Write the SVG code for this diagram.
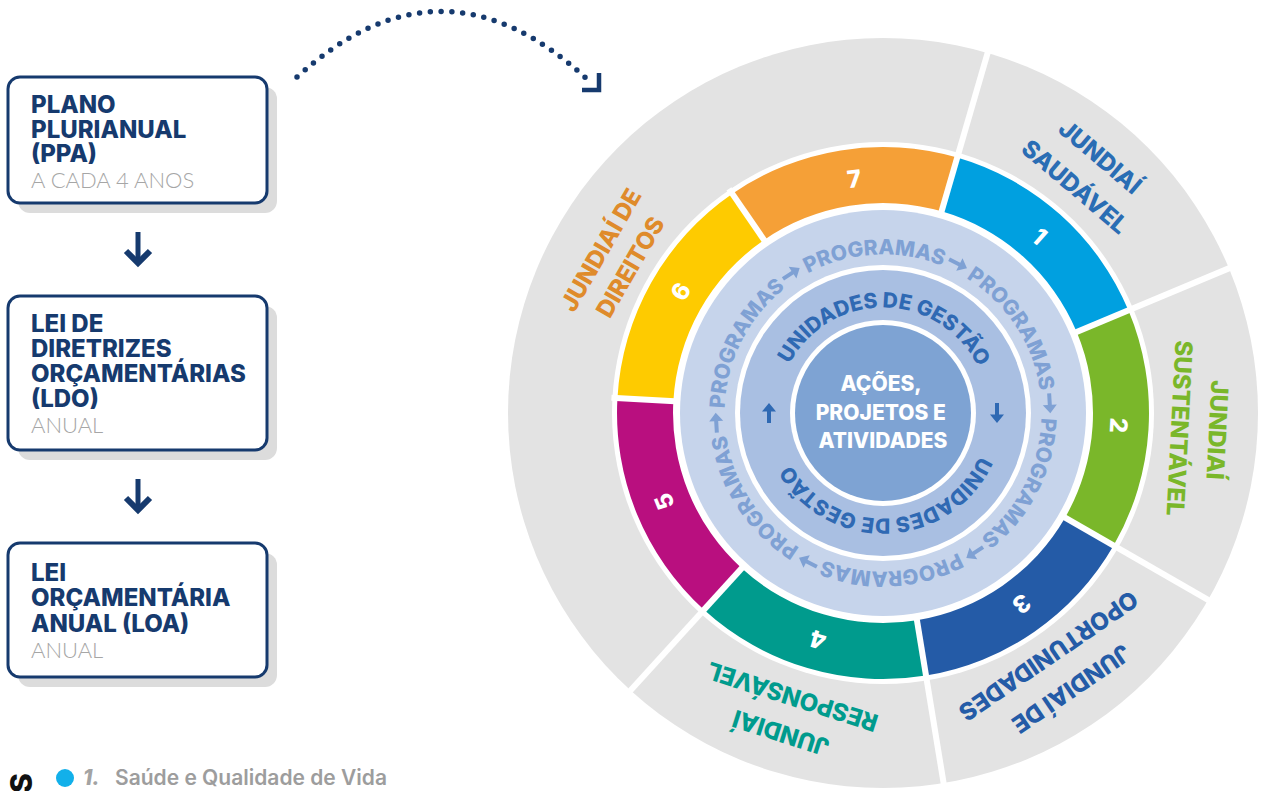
<svg xmlns="http://www.w3.org/2000/svg" xmlns:xlink="http://www.w3.org/1999/xlink" width="1261" height="791" viewBox="0 0 1261 791">
<defs>
<style>
.t{font-family:"Inter","Lato","Liberation Sans",sans-serif;}
.ttl{font-family:"Inter","Lato","Liberation Sans",sans-serif;font-weight:800;font-size:24px;fill:#163a6e;}
.sub{font-family:"Lato","Liberation Sans",sans-serif;font-weight:300;font-size:22px;fill:#a6a6a6;}
.box{fill:#ffffff;stroke:#163a6e;stroke-width:3;}
.shd{fill:#dcdcdc;}
.num{font-family:"Inter","Lato","Liberation Sans",sans-serif;font-weight:800;font-size:24px;fill:#ffffff;}
.lbl{font-family:"Inter","Lato","Liberation Sans",sans-serif;font-weight:800;font-size:24px;}
.prog{font-family:"Inter","Lato","Liberation Sans",sans-serif;font-weight:800;font-size:21px;fill:#7fa1d4;}
.ug{font-family:"Inter","Lato","Liberation Sans",sans-serif;font-weight:800;font-size:21px;fill:#2f69b3;}
.sep{stroke:#ffffff;stroke-width:6;}
.nav{stroke:#163a6e;fill:none;}
</style>
<path id="progPath" d="M883,254.5 A158.5,158.5 0 1 1 883,571.5 A158.5,158.5 0 1 1 883,254.5 A158.5,158.5 0 1 1 883,571.5 A158.5,158.5 0 1 1 883,254.5"/>
<path id="ugPath" d="M883,307.5 A105.5,105.5 0 1 1 883,518.5 A105.5,105.5 0 1 1 883,307.5 A105.5,105.5 0 1 1 883,518.5 A105.5,105.5 0 1 1 883,307.5"/>
<path id="arr" d="M-10,-2 H1.5 V-7 L10,0 L1.5,7 V2 H-10 Z"/>
</defs>
<rect width="1261" height="791" fill="#ffffff"/>

<!-- left boxes -->
<g id="box-ppa">
<rect class="shd" x="18" y="87" width="259" height="126" rx="12"/>
<rect class="box" x="8" y="77" width="259" height="126" rx="12"/>
<text class="ttl" x="31" y="113">PLANO</text>
<text class="ttl" x="31" y="138">PLURIANUAL</text>
<text class="ttl" x="31" y="162">(PPA)</text>
<text class="sub" x="31" y="188">A CADA 4 ANOS</text>
</g>
<g id="box-ldo">
<rect class="shd" x="18" y="306" width="259" height="154" rx="12"/>
<rect class="box" x="8" y="296" width="259" height="154" rx="12"/>
<text class="ttl" x="31" y="332">LEI DE</text>
<text class="ttl" x="31" y="357">DIRETRIZES</text>
<text class="ttl" x="31" y="382">ORÇAMENTÁRIAS</text>
<text class="ttl" x="31" y="407">(LDO)</text>
<text class="sub" x="31" y="433">ANUAL</text>
</g>
<g id="box-loa">
<rect class="shd" x="18" y="553" width="259" height="134" rx="12"/>
<rect class="box" x="8" y="543" width="259" height="134" rx="12"/>
<text class="ttl" x="31" y="581">LEI</text>
<text class="ttl" x="31" y="606">ORÇAMENTÁRIA</text>
<text class="ttl" x="31" y="632">ANUAL (LOA)</text>
<text class="sub" x="31" y="658">ANUAL</text>
</g>

<!-- connectors -->
<g id="connectors">
<path class="nav" d="M138,232 V263" stroke-width="5"/>
<path class="nav" d="M126,251 L138,263 L150,251" stroke-width="6"/>
<path class="nav" d="M138,479 V510" stroke-width="5"/>
<path class="nav" d="M126,498 L138,510 L150,498" stroke-width="6"/>
<path class="nav" d="M297,77 Q443,-56 589,81" stroke-width="5.5" stroke-linecap="round" stroke-dasharray="0 10.8"/>
<path class="nav" d="M599,73 V90 H582" stroke-width="4.5"/>
</g>

<!-- wheel -->
<g id="wheel">
<circle cx="883" cy="413" r="375" fill="#e3e3e3"/>
<circle cx="883" cy="413" r="271" fill="#ffffff"/>
<g id="segments">
<path id="seg7" fill="#f5a037" d="M732.34,193.79 A266,266 0 0 1 957.21,157.56 L941.59,211.34 A210,210 0 0 0 764.06,239.94 Z"/>
<path id="seg1" fill="#00a0e0" d="M957.21,157.56 A266,266 0 0 1 1128.39,310.35 L1076.73,331.96 A210,210 0 0 0 941.59,211.34 Z"/>
<path id="seg2" fill="#7ab72a" d="M1128.39,310.35 A266,266 0 0 1 1113.60,545.60 L1065.05,517.69 A210,210 0 0 0 1076.73,331.96 Z"/>
<path id="seg3" fill="#245ba7" d="M1113.60,545.60 A266,266 0 0 1 925.99,675.52 L916.94,620.25 A210,210 0 0 0 1065.05,517.69 Z"/>
<path id="seg4" fill="#009b8d" d="M925.99,675.52 A266,266 0 0 1 703.98,609.73 L741.67,568.32 A210,210 0 0 0 916.94,620.25 Z"/>
<path id="seg5" fill="#b90f7f" d="M703.98,609.73 A266,266 0 0 1 617.43,398.16 L673.34,401.28 A210,210 0 0 0 741.67,568.32 Z"/>
<path id="seg6" fill="#fecb00" d="M617.43,398.16 A266,266 0 0 1 732.34,193.79 L764.06,239.94 A210,210 0 0 0 673.34,401.28 Z"/>
</g>
<g id="separators">
<line class="sep" x1="939.92" y1="217.10" x2="989.02" y2="48.09"/>
<line class="sep" x1="1071.19" y1="334.28" x2="1233.55" y2="266.36"/>
<line class="sep" x1="1059.85" y1="514.69" x2="1212.42" y2="602.43"/>
<line class="sep" x1="915.97" y1="614.33" x2="944.41" y2="788.02"/>
<line class="sep" x1="745.71" y1="563.88" x2="627.26" y2="694.05"/>
<line class="sep" x1="767.45" y1="244.88" x2="728.94" y2="188.84"/>
<line class="sep" x1="679.33" y1="401.62" x2="611.44" y2="397.82"/>
</g>
<circle cx="883" cy="413" r="203" fill="#c6d4eb"/>
<circle cx="883" cy="413" r="148" fill="#ffffff"/>
<circle cx="883" cy="413" r="143" fill="#a9bfe2"/>
<circle cx="883" cy="413" r="93" fill="#ffffff"/>
<circle cx="883" cy="413" r="88" fill="#7ea3d3"/>

<g id="numbers">
<g transform="translate(883,413) rotate(-7)"><text class="num" x="0" y="-236" dy="0.36em" text-anchor="middle">7</text></g>
<g transform="translate(883,413) rotate(41.5)"><text class="num" x="0" y="-236" dy="0.36em" text-anchor="middle">1</text></g>
<g transform="translate(883,413) rotate(93)"><text class="num" x="0" y="-236" dy="0.36em" text-anchor="middle">2</text></g>
<g transform="translate(883,413) rotate(144)"><text class="num" x="0" y="-236" dy="0.36em" text-anchor="middle">3</text></g>
<g transform="translate(883,413) rotate(196)"><text class="num" x="0" y="-236" dy="0.36em" text-anchor="middle">4</text></g>
<g transform="translate(883,413) rotate(248)"><text class="num" x="0" y="-236" dy="0.36em" text-anchor="middle">5</text></g>
<g transform="translate(883,413) rotate(301)"><text class="num" x="0" y="-236" dy="0.36em" text-anchor="middle">6</text></g>
</g>

<g id="label-saudavel" transform="translate(883,413) rotate(40.3)" fill="#2a6db4">
<text class="lbl" x="0" y="-336" dy="0.36em" text-anchor="middle">JUNDIAÍ</text>
<text class="lbl" x="0" y="-297" dy="0.36em" text-anchor="middle">SAUDÁVEL</text>
</g>
<g id="label-sustentavel" transform="translate(883,413) rotate(92.9)" fill="#7ab72a">
<text class="lbl" x="0" y="-335" dy="0.36em" text-anchor="middle">JUNDIAÍ</text>
<text class="lbl" x="0" y="-297" dy="0.36em" text-anchor="middle">SUSTENTÁVEL</text>
</g>
<g id="label-oportunidades" transform="translate(883,413) rotate(145.7)" fill="#245ba7">
<text class="lbl" x="0" y="-334" dy="0.36em" text-anchor="middle">JUNDIAÍ DE</text>
<text class="lbl" x="0" y="-294" dy="0.36em" text-anchor="middle">OPORTUNIDADES</text>
</g>
<g id="label-responsavel" transform="translate(883,413) rotate(197.7)" fill="#009b8d">
<text class="lbl" x="0" y="-336" dy="0.36em" text-anchor="middle">JUNDIAÍ</text>
<text class="lbl" x="0" y="-298" dy="0.36em" text-anchor="middle">RESPONSÁVEL</text>
</g>
<g id="label-direitos" transform="translate(883,413) rotate(300)" fill="#df8b2b">
<text class="lbl" x="0" y="-326" dy="0.36em" text-anchor="middle">JUNDIAÍ DE</text>
<text class="lbl" x="0" y="-292" dy="0.36em" text-anchor="middle">DIREITOS</text>
</g>

<g id="programas">
<text class="prog"><textPath xlink:href="#progPath" href="#progPath" startOffset="986.7" text-anchor="middle">PROGRAMAS</textPath></text>
<text class="prog"><textPath xlink:href="#progPath" href="#progPath" startOffset="1152.6" text-anchor="middle">PROGRAMAS</textPath></text>
<text class="prog"><textPath xlink:href="#progPath" href="#progPath" startOffset="1318.6" text-anchor="middle">PROGRAMAS</textPath></text>
<text class="prog"><textPath xlink:href="#progPath" href="#progPath" startOffset="1484.6" text-anchor="middle">PROGRAMAS</textPath></text>
<text class="prog"><textPath xlink:href="#progPath" href="#progPath" startOffset="1650.5" text-anchor="middle">PROGRAMAS</textPath></text>
<text class="prog"><textPath xlink:href="#progPath" href="#progPath" startOffset="820.7" text-anchor="middle">PROGRAMAS</textPath></text>
<g fill="#7fa1d4">
<use xlink:href="#arr" href="#arr" transform="translate(883,413) rotate(26.7) translate(0,-167)"/>
<use xlink:href="#arr" href="#arr" transform="translate(883,413) rotate(86.7) translate(0,-167)"/>
<use xlink:href="#arr" href="#arr" transform="translate(883,413) rotate(146.7) translate(0,-167)"/>
<use xlink:href="#arr" href="#arr" transform="translate(883,413) rotate(206.7) translate(0,-167)"/>
<use xlink:href="#arr" href="#arr" transform="translate(883,413) rotate(266.7) translate(0,-167)"/>
<use xlink:href="#arr" href="#arr" transform="translate(883,413) rotate(-33.3) translate(0,-167)"/>
</g>
</g>

<g id="unidades">
<text class="ug"><textPath xlink:href="#ugPath" href="#ugPath" startOffset="664.2" text-anchor="middle">UNIDADES DE GESTÃO</textPath></text>
<text class="ug"><textPath xlink:href="#ugPath" href="#ugPath" startOffset="988.8" text-anchor="middle">UNIDADES DE GESTÃO</textPath></text>
<g fill="#2f69b3">
<use xlink:href="#arr" href="#arr" transform="translate(883,413) rotate(90) translate(0,-114)"/>
<use xlink:href="#arr" href="#arr" transform="translate(883,413) rotate(270) translate(0,-114)"/>
</g>
</g>

<g id="center">
<text class="t" font-weight="800" font-size="21" fill="#ffffff" text-anchor="middle">
<tspan x="883" y="391">AÇÕES,</tspan>
<tspan x="883" y="420">PROJETOS E</tspan>
<tspan x="883" y="448">ATIVIDADES</tspan>
</text>
</g>
</g>

<!-- bottom strip -->
<g id="footer">
<text class="t" font-weight="800" font-size="30" fill="#111111" transform="translate(32,793) rotate(-90)">S</text>
<circle cx="65" cy="778" r="9" fill="#12b0ea"/>
<text class="t" x="83" y="785" font-weight="800" font-style="italic" font-size="21" fill="#a3a3a3">1.</text>
<text class="t" x="115" y="785" font-weight="600" font-size="21" fill="#9d9d9d">Saúde e Qualidade de Vida</text>
</g>
</svg>
